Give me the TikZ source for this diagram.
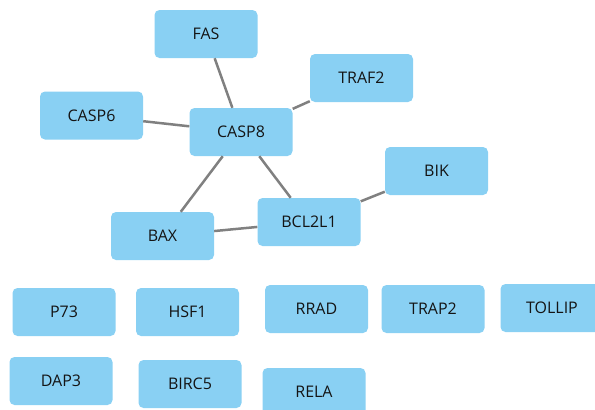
\documentclass[tikz,border=0pt]{standalone}
\usepackage{fontspec}
\setmainfont{Open Sans}
\definecolor{boxblue}{RGB}{137,208,243}
\definecolor{edgegray}{RGB}{128,128,128}
\definecolor{txt}{RGB}{20,20,20}
\begin{document}
\begin{tikzpicture}[x=1pt,y=-1pt,
  gene/.style={rectangle, rounded corners=5pt, fill=boxblue, minimum width=103pt, minimum height=48pt, inner sep=0pt, text=txt, font=\fontsize{16}{18}\selectfont},
  link/.style={draw=edgegray, line width=2.5pt}]
\useasboundingbox (0,0) rectangle (595,410);
\clip (0,0) rectangle (595,410);
\node[gene] (FAS) at (206,34) {FAS};
\node[gene] (TRAF2) at (361.5,78) {TRAF2};
\node[gene] (CASP6) at (91.5,115.5) {CASP6};
\node[gene] (CASP8) at (241,132) {CASP8};
\node[gene] (BIK) at (436.5,171) {BIK};
\node[gene] (BCL2L1) at (309,222) {BCL2L1};
\node[gene] (BAX) at (162.5,236) {BAX};
\node[gene] (P73) at (64,312) {P73};
\node[gene] (HSF1) at (187.5,312) {HSF1};
\node[gene] (RRAD) at (316.5,309) {RRAD};
\node[gene] (TRAP2) at (433,309) {TRAP2};
\node[gene] (TOLLIP) at (552,308) {TOLLIP};
\node[gene] (DAP3) at (61,381) {DAP3};
\node[gene] (BIRC5) at (190,384) {BIRC5};
\node[gene] (RELA) at (314,392) {RELA};
\draw[link] (FAS) -- (CASP8);
\draw[link] (TRAF2) -- (CASP8);
\draw[link] (CASP6) -- (CASP8);
\draw[link] (CASP8) -- (BAX);
\draw[link] (CASP8) -- (BCL2L1);
\draw[link] (BAX) -- (BCL2L1);
\draw[link] (BCL2L1) -- (BIK);
\end{tikzpicture}
\end{document}
